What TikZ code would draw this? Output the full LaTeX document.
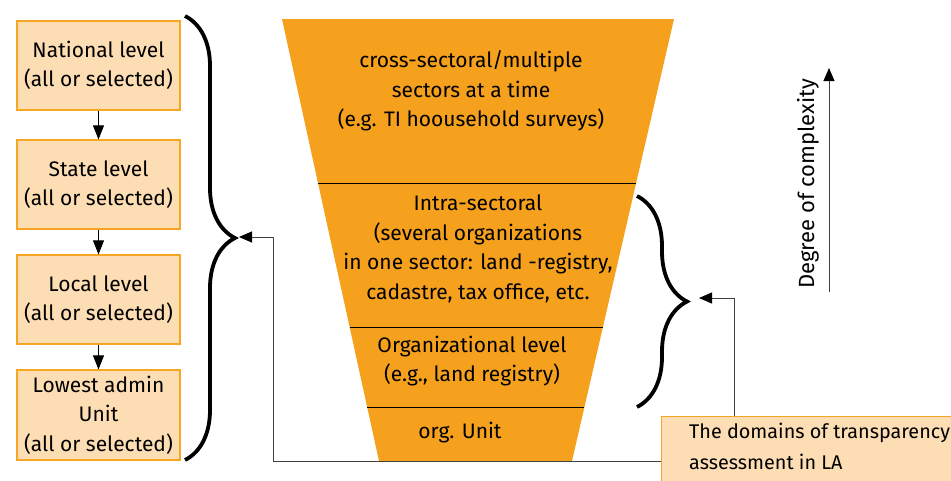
\documentclass[tikz,border=0pt]{standalone}
\usepackage{fontspec}
\setmainfont{Fira Sans}
\usetikzlibrary{arrows.meta,positioning,calc,decorations.pathreplacing}
\definecolor{funnelor}{RGB}{245,161,30}
\definecolor{boxfill}{RGB}{253,221,179}
\definecolor{boxline}{RGB}{247,166,35}
\definecolor{connline}{RGB}{64,64,64}
\tikzset{lvl/.style={draw=boxline, fill=boxfill, line width=1.2pt, minimum width=163, minimum height=89, align=center, inner sep=2pt}}
\tikzset{txt/.style={align=center, inner sep=0pt}}
\tikzset{arr/.style={draw, -{Triangle[length=14pt,width=11pt]}, line width=0.9pt}}
\tikzset{conn/.style={draw=connline, -{Triangle[length=13pt,width=11pt,color=black]}, line width=1pt}}
\tikzset{curly/.style={draw, line width=3.8pt, decorate, decoration={brace, amplitude=50pt}}}

\begin{document}
\begin{tikzpicture}[x=1pt, y=-1pt, font=\fontsize{21}{29.5}\selectfont]
		\useasboundingbox (0,0) rectangle (951,480);

		% levels on the left
		\node[lvl] (nat) at (98.5,65.5){National level\\(all or selected)};
		\node[lvl] (sta) at (98.5,184.5){State level\\(all or selected)};
		\node[lvl] (loc) at (98.5,299.5){Local level\\(all or selected)};
		\node[lvl, minimum height=90] (low) at (98.5,415){Lowest admin\\Unit\\(all or selected)};

		\draw[arr] (nat) -- (sta);
		\draw[arr] (sta) -- (loc);
		\draw[arr] (loc) -- (low);

		\draw[curly] (185,16) -- (185,460);

		% funnel
		\coordinate (tl) at (282,19);
		\coordinate (tr) at (674,19);
		\coordinate (br) at (572,461);
		\coordinate (bl) at (379,461);
		\fill[funnelor] (tl) -- (tr) -- (br) -- (bl) -- cycle;
		\draw[thick] ($(tl)!0.373!(bl)$) -- ($(tr)!0.373!(br)$);
		\draw[thick] ($(tl)!0.697!(bl)$) -- ($(tr)!0.697!(br)$);
		\draw[thick] ($(tl)!0.878!(bl)$) -- ($(tr)!0.878!(br)$);

		\node[txt] (cross) at (471,91){cross-sectoral/multiple\\sectors at a time\\(e.g. TI hoousehold surveys)};
		\node[txt] (intra) at (478,249){Intra-sectoral\\(several organizations\\in one sector: land -registry,\\cadastre, tax office, etc.};
		\node[txt] (org) at (472,361){Organizational level\\(e.g., land registry)};
		\node[txt] (unit) at (460,433){org. Unit};

		\draw[curly] (637,196) -- (637,407);

		% degree of complexity
		\node[txt, rotate=90, font=\fontsize{22}{26}\selectfont] (cplx) at (808,184){Degree of complexity};
		\coordinate (cbot) at (829,292);
		\coordinate (ctop) at (829,68);
		\draw[conn] (cbot) -- (ctop);

		% domains box
		\node[lvl, anchor=north west, minimum width=300, minimum height=90, inner sep=0pt] (dom) at (661,416){};
		\node[txt, anchor=north west, align=left, font=\fontsize{19.8}{30.5}\selectfont] (domtxt) at (689,423){The domains of transparency\\assessment in LA};

		\coordinate (lbend) at (273,461);
		\coordinate (ltip) at (239,237);
		\draw[conn] (dom.west |- lbend) -- (lbend) |- (ltip);

		\coordinate (rbend) at (734,298);
		\coordinate (rtip) at (699,298);
		\draw[conn] (dom.north -| rbend) -- (rbend) -- (rtip);
	\end{tikzpicture}
\end{document}
